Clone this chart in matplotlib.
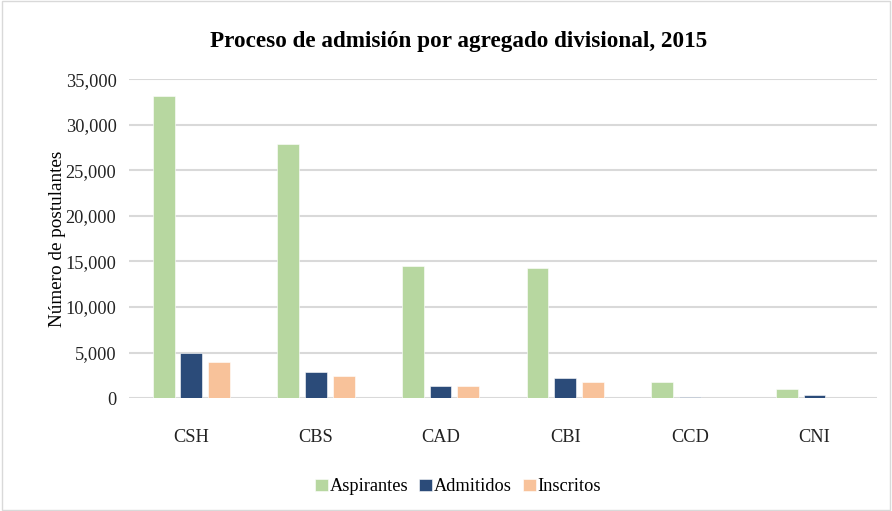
import numpy as np
import matplotlib.pyplot as plt
from matplotlib.patches import Rectangle

## Data
categorias = ['CSH', 'CBS', 'CAD', 'CBI', 'CCD', 'CNI']
aspirantes = [33200, 27900, 14450, 14250, 1800, 960]
admitidos = [4950, 2850, 1350, 2200, 100, 330]
inscritos = [3930, 2420, 1350, 1800, 60, 60]

series = ['Aspirantes', 'Admitidos', 'Inscritos']
colores = ['#b7d7a0', '#2b4b79', '#f8c29a']

plt.rcParams['font.family'] = ['Liberation Serif', 'DejaVu Serif']

fig = plt.figure(figsize=(8.92, 5.11), dpi=100)
ax = fig.add_axes([0.1446, 0.221, 0.8384, 0.624])

x = np.arange(len(categorias))
w = 0.175
paso = 0.222
for i, (vals, nombre, col) in enumerate(zip([aspirantes, admitidos, inscritos], series, colores)):
    ax.bar(x + (i - 1) * paso, vals, width=w, color=col, label=nombre,
           edgecolor='white', linewidth=0.4, zorder=3)

ax.set_xlim(-0.5, len(categorias) - 0.5)
ax.set_ylim(0, 35000)
ax.set_yticks(np.arange(0, 35001, 5000))
ax.yaxis.set_major_formatter(plt.FuncFormatter(lambda v, p: f'{int(v):,}'))
ax.set_xticks(x)
ax.set_xticklabels(categorias)
ax.tick_params(axis='both', length=0, labelsize=13.2, colors='#222222')
ax.tick_params(axis='x', pad=22)
ax.tick_params(axis='y', pad=9)
ax.grid(axis='y', color='#d9d9d9', linewidth=1.5, zorder=0)
for s in ax.spines.values():
    s.set_visible(False)

ax.set_ylabel('Número de postulantes', fontsize=13.8, labelpad=0)
fig.suptitle('Proceso de admisión por agregado divisional, 2015',
             fontsize=16.7, fontweight='bold', y=0.94, x=0.514)

ax.legend(loc='upper center', bbox_to_anchor=(0.44, -0.2), ncol=3,
          frameon=False, fontsize=13.2, handlelength=0.7, handleheight=0.7,
          handletextpad=0.1, columnspacing=0.6)

# Outer chart border
fig.patches.append(Rectangle((0.002, 0.002), 0.996, 0.996, transform=fig.transFigure,
                             fill=False, edgecolor='#d9d9d9', linewidth=1))

plt.savefig('out.png', dpi=100)
